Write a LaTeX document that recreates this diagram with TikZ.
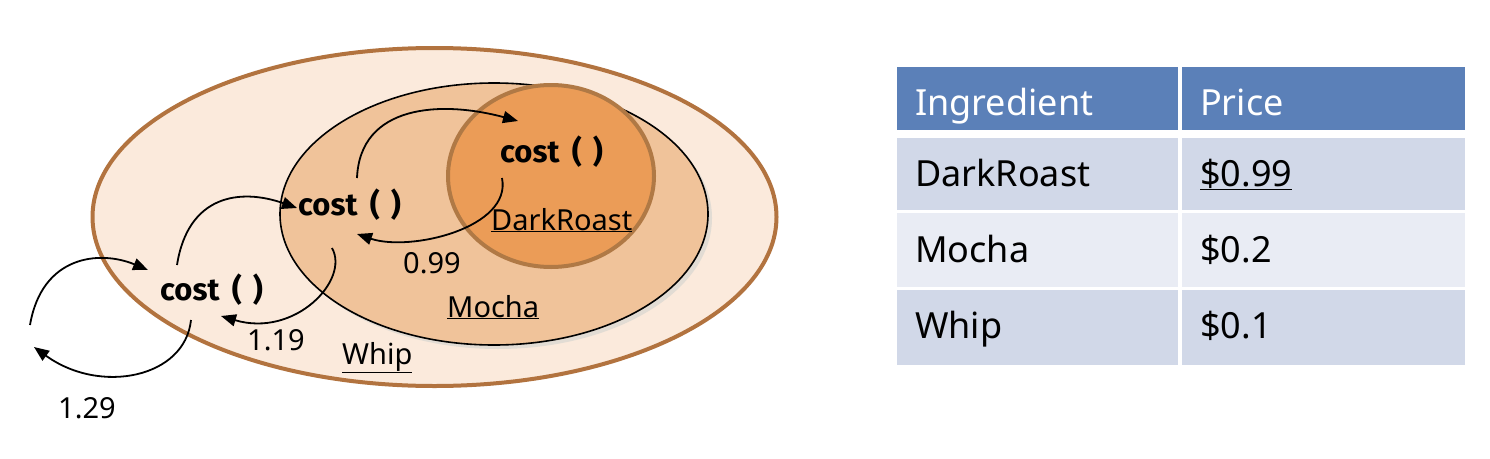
\documentclass[tikz,border=0pt]{standalone}
\usepackage{fontspec}
\setmainfont{Noto Sans}
\newfontfamily\costfont{Fira Sans}
\usetikzlibrary{arrows.meta}
\definecolor{whipfill}{HTML}{FBEADC}
\definecolor{whipline}{HTML}{B2733F}
\definecolor{mochafill}{HTML}{F0C39A}
\definecolor{mochashadow}{HTML}{E2DCD4}
\definecolor{darkfill}{HTML}{EB9C57}
\definecolor{darkline}{HTML}{B07945}
\definecolor{headfill}{HTML}{5B80B8}
\definecolor{rowa}{HTML}{D1D8E8}
\definecolor{rowb}{HTML}{E9ECF4}
\newcommand\myul[1]{\underline{#1}}
\newcommand\costcall{cost\hspace{0.4em}(\hspace{0.35em})}
\tikzset{
  costtxt/.style={inner sep=0pt, anchor=base west, font=\costfont\bfseries\fontsize{31}{34}\selectfont},
  lbl/.style={inner sep=0pt, anchor=base west, font=\fontsize{29}{34}\selectfont},
  tbl/.style={inner sep=0pt, anchor=base west, font=\fontsize{36}{40}\selectfont},
  flow/.style={line width=1.8pt, -{Triangle[length=15pt,width=12pt]}},
}
\begin{document}
\begin{tikzpicture}[x=1pt,y=-1pt]
\useasboundingbox (0,0) rectangle (1490,458);
% ellipses
\filldraw[fill=whipfill, draw=whipline, line width=4pt] (434.5,217) ellipse [x radius=342pt, y radius=169pt];
\fill[mochashadow] (498,218) ellipse [x radius=214pt, y radius=131pt];
\filldraw[fill=mochafill, draw=black, line width=1.6pt] (494,214) ellipse [x radius=214pt, y radius=131pt];
\filldraw[fill=darkfill, draw=darkline, line width=4pt] (551,176) ellipse [x radius=103pt, y radius=91pt];
% texts
\node[costtxt] (c1) at (500,162) {\costcall};
\node[costtxt] (c2) at (298,215) {\costcall};
\node[costtxt] (c3) at (160,300) {\costcall};
\node[lbl] (dr) at (491,230) {\myul{DarkRoast}};
\node[lbl] (mo) at (447,317) {\myul{Mocha}};
\node[lbl] (wh) at (342,364) {\myul{Whip}};
\node[lbl] (v1) at (403,273) {0.99};
\node[lbl] (v2) at (247,350) {1.19};
\node[lbl] (v3) at (58,418) {1.29};
% connector ends
\coordinate (a1s) at (502,178);
\coordinate (a1e) at (357,234);
\coordinate (a2s) at (357,178);
\coordinate (a2e) at (518,121);
\coordinate (a3s) at (177,265);
\coordinate (a3e) at (297,208);
\coordinate (a4s) at (332,248);
\coordinate (a4e) at (221,316);
\coordinate (a5s) at (30,325);
\coordinate (a5e) at (148,270);
\coordinate (a6s) at (191,320);
\coordinate (a6e) at (34,347);
\draw[flow] (a1s) .. controls (512,228) and (410,252) .. (a1e);
\draw[flow] (a2s) .. controls (360,105) and (440,100) .. (a2e);
\draw[flow] (a3s) .. controls (188,195) and (240,188) .. (a3e);
\draw[flow] (a4s) .. controls (350,280) and (295,338) .. (a4e);
\draw[flow] (a5s) .. controls (42,255) and (100,250) .. (a5e);
\draw[flow] (a6s) .. controls (185,378) and (100,395) .. (a6e);
% table
\fill[headfill] (897,67) rectangle (1178,130);
\fill[headfill] (1182,67) rectangle (1465,130);
\fill[rowa] (897,138) rectangle (1178,210);
\fill[rowa] (1182,138) rectangle (1465,210);
\fill[rowb] (897,213) rectangle (1178,287);
\fill[rowb] (1182,213) rectangle (1465,287);
\fill[rowa] (897,290) rectangle (1178,365);
\fill[rowa] (1182,290) rectangle (1465,365);
\node[tbl, text=white] (h1) at (915,115) {Ingredient};
\node[tbl, text=white] (h2) at (1200,115) {Price};
\node[tbl] (r1a) at (915,186) {DarkRoast};
\node[tbl] (r1b) at (1200,186) {\myul{\$0.99}};
\node[tbl] (r2a) at (915,262) {Mocha};
\node[tbl] (r2b) at (1200,262) {\$0.2};
\node[tbl] (r3a) at (915,338) {Whip};
\node[tbl] (r3b) at (1200,338) {\$0.1};
\end{tikzpicture}
\end{document}
